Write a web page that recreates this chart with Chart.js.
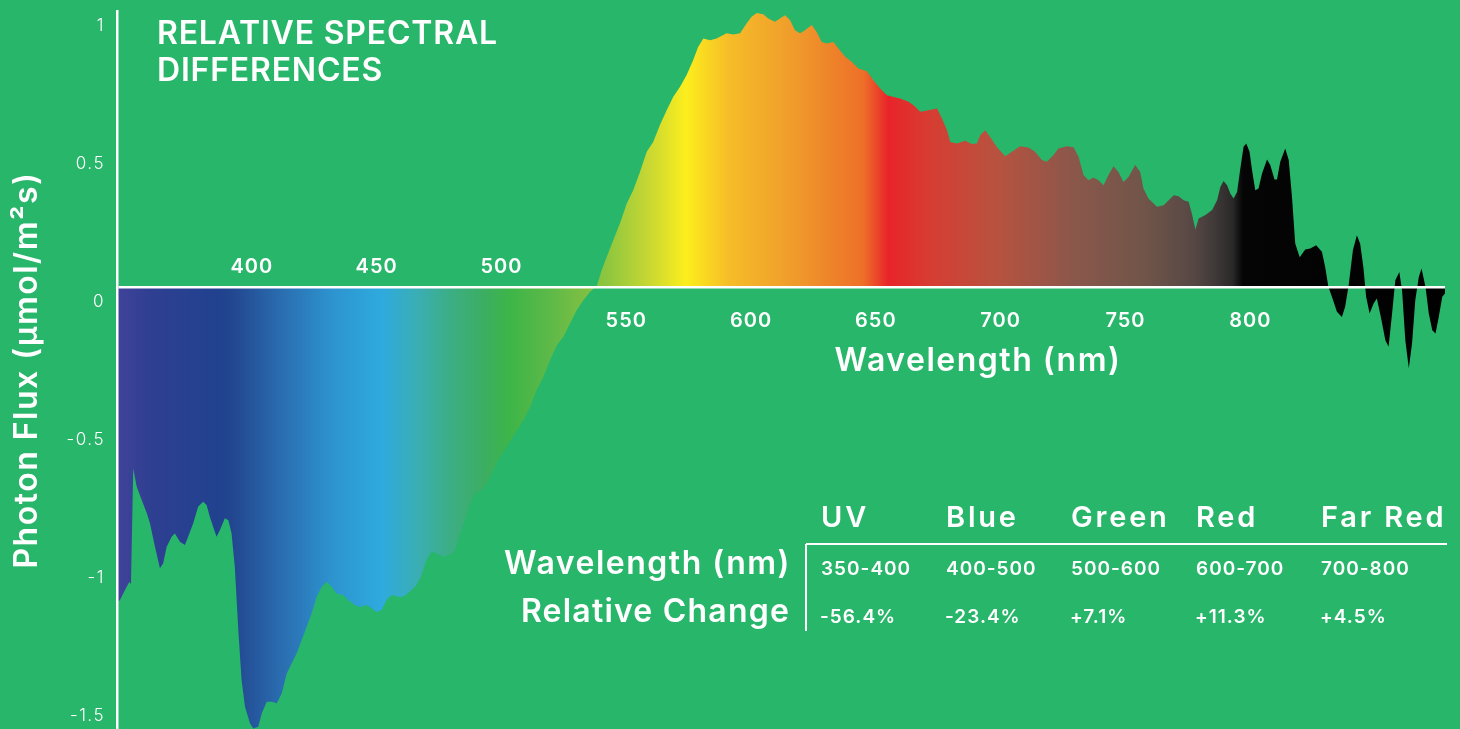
<!DOCTYPE html>
<html>
<head>
<meta charset="utf-8">
<script src="https://cdn.jsdelivr.net/npm/chart.js@4.4.0/dist/chart.umd.min.js"></script>
<style>
  html, body { margin: 0; padding: 0; background: #28b66a; }
</style>
</head>
<body>
<canvas id="chart" width="1460" height="729"></canvas>
<script>
// Relative spectral difference
// wavelength in nm, photon flux difference in umol/m2s
var wavelengths = [
  346.1, 347.2, 349.2, 350.9, 351.6, 352.5, 353.9, 355.9, 357.9, 359.2,
  361.2, 363.2, 364.5, 365.9, 367.9, 369.2, 371.2, 373.2, 374.5, 376.5,
  378.5, 380.5, 381.9, 383.2, 384.5, 385.9, 387.2, 389.2, 390.6, 391.9,
  393.2, 394.6, 395.9, 397.3, 399.3, 400.6, 402.6, 404.0, 406.0, 408.0,
  410.0, 412.0, 414.0, 416.0, 418.0, 420.0, 422.0, 424.0, 426.0, 428.0,
  430.0, 432.0, 434.0, 436.6, 438.6, 441.3, 443.3, 446.0, 448.0, 450.0,
  452.0, 454.0, 456.0, 458.7, 460.7, 463.3, 466.0, 468.0, 470.0, 472.0,
  474.0, 476.7, 479.4, 481.4, 483.4, 485.4, 487.4, 489.4, 492.1, 494.1,
  496.7, 499.4, 502.1, 505.4, 508.8, 511.5, 514.1, 516.8, 519.5, 522.2,
  524.8, 527.5, 530.2, 532.8, 535.5, 538.2,
  540.2, 542.2, 544.8, 547.5, 550.2, 552.8, 555.5, 558.2, 560.8, 563.5,
  566.2, 568.8, 571.5, 574.2, 576.8, 578.8, 580.9, 583.6, 586.2, 590.2,
  592.9, 595.6, 598.2, 600.2, 602.3, 604.9, 606.9, 609.6, 611.6, 613.6,
  615.6, 617.6, 619.6, 621.6, 624.3, 626.3, 628.3, 630.3, 633.0, 635.0,
  637.7, 640.3, 643.0, 646.4, 649.0, 651.7, 654.4, 657.1, 659.7, 663.1,
  665.1, 667.8, 671.1, 674.5, 676.5, 678.5, 679.8, 682.5, 685.8, 688.5,
  690.5, 691.8, 693.8, 695.8, 698.4, 701.8, 704.5, 707.8, 711.1, 713.8,
  716.5, 718.5, 721.1, 723.1, 726.5, 729.2, 731.2, 733.2, 735.2, 737.2,
  739.2, 741.2, 743.2, 745.2, 747.2, 749.2, 751.2, 753.9, 755.9, 757.2,
  759.2, 762.6, 765.3, 767.3, 769.3, 771.3, 773.3, 775.3, 776.6, 778.0,
  779.3, 782.0, 784.7, 786.7, 788.0, 789.3, 790.7, 792.0, 793.3, 794.7,
  796.0, 797.3, 798.4, 799.7, 800.7, 802.0, 803.3, 804.7, 806.7, 808.0,
  809.7, 810.7, 812.0, 814.0, 815.4, 816.7, 818.0, 819.8, 822.0, 824.0,
  826.4, 828.7, 830.0, 831.3, 832.7, 834.7, 836.7, 838.0, 839.4, 841.1,
  842.7, 844.0, 845.3, 846.4, 847.8, 849.4, 850.7, 852.3, 854.1, 855.4,
  856.8, 858.1, 859.7, 860.8, 862.1, 863.5, 864.8, 866.1, 867.5, 868.6,
  870.2, 871.5, 872.9, 874.2, 875.5, 876.9, 878.0
];
var photonFlux = [
  -1.139, -1.133, -1.097, -1.068, -1.075, -0.657, -0.723, -0.771, -0.818, -0.855,
  -0.940, -1.018, -1.000, -0.940, -0.904, -0.892, -0.922, -0.934, -0.904, -0.856,
  -0.795, -0.777, -0.789, -0.832, -0.868, -0.904, -0.880, -0.837, -0.844, -0.892,
  -1.013, -1.242, -1.423, -1.520, -1.580, -1.598, -1.592, -1.543, -1.501, -1.501,
  -1.507, -1.471, -1.399, -1.362, -1.326, -1.278, -1.230, -1.181, -1.121, -1.085,
  -1.067, -1.085, -1.109, -1.115, -1.133, -1.151, -1.158, -1.151, -1.163, -1.176,
  -1.169, -1.133, -1.115, -1.121, -1.121, -1.103, -1.079, -1.043, -0.988, -0.958,
  -0.964, -0.976, -0.970, -0.952, -0.892, -0.844, -0.783, -0.747, -0.735, -0.711,
  -0.663, -0.614, -0.578, -0.530, -0.482, -0.433, -0.373, -0.325, -0.264, -0.210,
  -0.180, -0.131, -0.083, -0.047, -0.017, 0.004,
  0.062, 0.110, 0.170, 0.231, 0.303, 0.351, 0.417, 0.490, 0.526, 0.587,
  0.641, 0.689, 0.725, 0.768, 0.822, 0.870, 0.900, 0.894, 0.900, 0.919,
  0.915, 0.919, 0.955, 0.979, 0.993, 0.988, 0.973, 0.961, 0.973, 0.985,
  0.967, 0.930, 0.919, 0.930, 0.949, 0.924, 0.888, 0.882, 0.888, 0.864,
  0.834, 0.816, 0.792, 0.782, 0.749, 0.719, 0.695, 0.689, 0.683, 0.671,
  0.659, 0.635, 0.641, 0.647, 0.611, 0.568, 0.526, 0.520, 0.530, 0.518,
  0.520, 0.550, 0.568, 0.544, 0.508, 0.474, 0.490, 0.510, 0.506, 0.490,
  0.460, 0.454, 0.478, 0.502, 0.510, 0.507, 0.472, 0.406, 0.387, 0.397,
  0.387, 0.369, 0.406, 0.438, 0.417, 0.381, 0.399, 0.442, 0.417, 0.357,
  0.321, 0.291, 0.297, 0.315, 0.333, 0.329, 0.315, 0.309, 0.267, 0.209,
  0.249, 0.261, 0.279, 0.315, 0.363, 0.384, 0.369, 0.339, 0.321, 0.345,
  0.430, 0.508, 0.520, 0.490, 0.424, 0.351, 0.357, 0.412, 0.462, 0.442,
  0.390, 0.390, 0.454, 0.502, 0.460, 0.327, 0.158, 0.108, 0.136, 0.140,
  0.152, 0.128, 0.073, 0.001, -0.035, -0.089, -0.108, -0.071, 0.007, 0.134,
  0.188, 0.158, 0.073, -0.035, -0.095, -0.059, -0.041, -0.108, -0.192, -0.216,
  -0.095, 0.025, 0.055, -0.011, -0.192, -0.294, -0.204, -0.047, 0.037, 0.068,
  0.001, -0.095, -0.156, -0.168, -0.108, -0.035, -0.023
];

var xTicks = [400, 450, 500, 550, 600, 650, 700, 750, 800];
var yTicks = [1, 0.5, 0, -0.5, -1, -1.5];

// summary table
var bandNames = ['UV', 'Blue', 'Green', 'Red', 'Far Red'];
var bandRanges = ['350-400', '400-500', '500-600', '600-700', '700-800'];
var bandChanges = ['-56.4%', '-23.4%', '+7.1%', '+11.3%', '+4.5%'];

// spectrum colours along the wavelength axis
var spectrumStops = [346, 359, 386, 392, 412, 432, 452, 466, 479, 493, 503, 519, 533, 542,
  558, 574, 591, 618, 645, 655, 671, 698, 730, 757, 777, 786, 793, 797, 878];
var spectrumColors = ['#40439a', '#2f3f92', '#21418f', '#22468f', '#2a6db0', '#2d93cf',
  '#2eaade', '#3aaeb5', '#3cae86', '#3cae62', '#3db548', '#5cb948', '#7dbf43', '#8cc63f',
  '#c4d634', '#fcee1d', '#f6bd28', '#ef9a2b', '#ee6f28', '#e8242a', '#d73c32', '#b8523f',
  '#8a574b', '#715549', '#574845', '#3f3938', '#2a2828', '#050505', '#000000'];

var FONT = 'Inter, "Open Sans", sans-serif';
var points = wavelengths.map(function (w, i) { return { x: w, y: photonFlux[i] }; });

var spectrumFill = function (context) {
  var chart = context.chart;
  var area = chart.chartArea;
  if (!area) return null;
  var xs = chart.scales.x;
  var g = chart.ctx.createLinearGradient(area.left, 0, area.right, 0);
  spectrumStops.forEach(function (nm, i) {
    var t = (xs.getPixelForValue(nm) - area.left) / (area.right - area.left);
    g.addColorStop(Math.min(1, Math.max(0, t)), spectrumColors[i]);
  });
  return g;
};

// wider letter spacing for the axis text, close to the original typeface
var spacing = {
  id: 'spacing',
  beforeDraw: function (chart) { chart.ctx.letterSpacing = '1.5px'; }
};

// title, wavelength labels and the summary table
var overlay = {
  id: 'overlay',
  afterDraw: function (chart) {
    var ctx = chart.ctx;
    var xs = chart.scales.x;
    ctx.save();
    ctx.fillStyle = '#fff';
    ctx.textBaseline = 'alphabetic';

    ctx.textAlign = 'left';
    ctx.letterSpacing = '0.8px';
    ctx.font = '600 32px ' + FONT;
    ctx.fillText('RELATIVE SPECTRAL', 157, 44);
    ctx.fillText('DIFFERENCES', 157, 81);

    ctx.textAlign = 'center';
    ctx.letterSpacing = '1px';
    ctx.font = '600 20px ' + FONT;
    xTicks.forEach(function (v) {
      var y = v <= 500 ? 273 : 327;
      ctx.fillText(String(v), xs.getPixelForValue(v), y);
    });
    ctx.letterSpacing = '1.5px';
    ctx.font = '600 32px ' + FONT;
    ctx.fillText('Wavelength (nm)', 978, 371);

    // table
    ctx.textAlign = 'left';
    ctx.letterSpacing = '2.8px';
    ctx.font = '600 29px ' + FONT;
    bandNames.forEach(function (n, i) { ctx.fillText(n, 821 + i * 125, 527); });
    ctx.letterSpacing = '1px';
    ctx.font = '600 19px ' + FONT;
    bandRanges.forEach(function (n, i) { ctx.fillText(n, 821 + i * 125, 575); });
    bandChanges.forEach(function (n, i) { ctx.fillText(n, 820 + i * 125, 623); });
    ctx.textAlign = 'right';
    ctx.font = '600 32px ' + FONT;
    ctx.letterSpacing = '1.5px';
    ctx.fillText('Wavelength (nm)', 791, 574);
    ctx.letterSpacing = '1.2px';
    ctx.fillText('Relative Change', 790, 622);

    ctx.strokeStyle = '#fff';
    ctx.lineWidth = 2;
    ctx.beginPath();
    ctx.moveTo(806, 544); ctx.lineTo(1447, 544);
    ctx.moveTo(806, 544); ctx.lineTo(806, 631);
    ctx.stroke();
    ctx.restore();
    ctx.letterSpacing = '0px';
  }
};

new Chart(document.getElementById('chart'), {
  type: 'line',
  data: {
    datasets: [{
      data: points,
      borderWidth: 0,
      pointRadius: 0,
      tension: 0,
      fill: 'origin',
      backgroundColor: spectrumFill
    }]
  },
  options: {
    responsive: false,
    animation: false,
    devicePixelRatio: 1,
    layout: { padding: { top: 11, right: 15, bottom: 0, left: 0 } },
    plugins: { legend: { display: false }, tooltip: { enabled: false } },
    scales: {
      x: { type: 'linear', min: 346, max: 878, display: false },
      y: {
        min: -1.6,
        max: 1.0,
        afterBuildTicks: function (s) { s.ticks = yTicks.map(function (v) { return { value: v }; }); },
        afterFit: function (s) { s.width = 117; s.paddingTop = 0; s.paddingBottom = 0; },
        border: { color: '#fff', width: 2.5, z: 1 },
        grid: {
          z: 1,
          drawTicks: false,
          lineWidth: 2.5,
          color: function (c) { return c.tick && c.tick.value === 0 ? '#fff' : 'rgba(0,0,0,0)'; }
        },
        ticks: {
          color: '#fff',
          padding: 12,
          labelOffset: 15,
          font: { family: FONT, size: 17, weight: '300' },
          callback: function (v) { return String(v); }
        },
        title: {
          display: true,
          text: 'Photon Flux (µmol/m²s)',
          color: '#fff',
          font: { family: FONT, size: 32, weight: '600' },
          padding: { top: 8, bottom: 0 }
        }
      }
    }
  },
  plugins: [spacing, overlay]
});
</script>
</body>
</html>
